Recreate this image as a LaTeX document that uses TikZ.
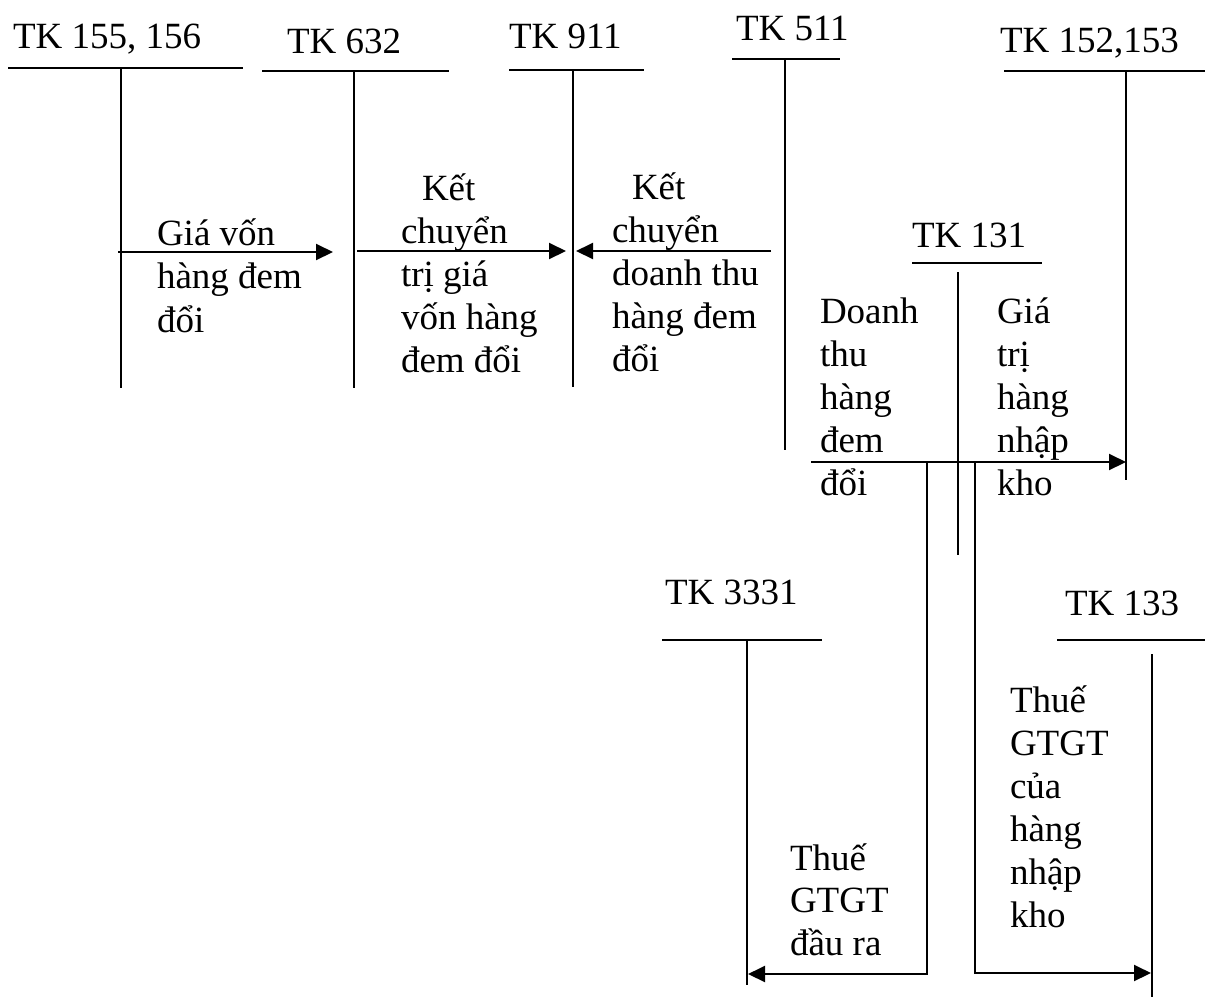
\documentclass[tikz,border=0pt]{standalone}
\usepackage{fontspec}
\setmainfont{Liberation Serif}
\usetikzlibrary{arrows.meta}
\tikzset{
  acct/.style={line width=2pt},
  flow/.style={line width=2pt, -{Triangle[length=17pt,width=16pt]}},
  lbl/.style={anchor=base west, inner sep=0pt, outer sep=0pt,
              font=\fontsize{37}{43}\selectfont},
}
% a column of one-line labels: name, left x, first baseline, line step, lines
\newcommand\linesat[5]{%
  \foreach \lineText [count=\k] in {#5}{%
    \node[lbl] (#1-\k) at ({#2},{#3+(\k-1)*#4}) {\lineText};}}
\begin{document}
\begin{tikzpicture}[x=1pt,y=-1pt]
\useasboundingbox (0,0) rectangle (1205,997);

% ---- TK 155, 156
\node[lbl] (t155) at (13,48) {TK 155, 156};
\coordinate (t155l) at (8,68);   \coordinate (t155r) at (243,68);
\coordinate (t155s) at (121,68); \coordinate (t155e) at (121,388);
\draw[acct] (t155l) -- (t155r);
\draw[acct] (t155s) -- (t155e);

% ---- TK 632
\node[lbl] (t632) at (287,53) {TK 632};
\coordinate (t632l) at (262,71); \coordinate (t632r) at (449,71);
\coordinate (t632s) at (354,71); \coordinate (t632e) at (354,388);
\draw[acct] (t632l) -- (t632r);
\draw[acct] (t632s) -- (t632e);

% ---- TK 911
\node[lbl] (t911) at (509,48) {TK 911};
\coordinate (t911l) at (509,70); \coordinate (t911r) at (644,70);
\coordinate (t911s) at (573,70); \coordinate (t911e) at (573,387);
\draw[acct] (t911l) -- (t911r);
\draw[acct] (t911s) -- (t911e);

% ---- TK 511
\node[lbl] (t511) at (736,40) {TK 511};
\coordinate (t511l) at (732,59); \coordinate (t511r) at (840,59);
\coordinate (t511s) at (785,59); \coordinate (t511e) at (785,450);
\draw[acct] (t511l) -- (t511r);
\draw[acct] (t511s) -- (t511e);

% ---- TK 152,153
\node[lbl] (t152) at (1000,52) {TK 152,153};
\coordinate (t152l) at (1004,71); \coordinate (t152r) at (1205,71);
\coordinate (t152s) at (1126,71); \coordinate (t152e) at (1126,480);
\draw[acct] (t152l) -- (t152r);
\draw[acct] (t152s) -- (t152e);

% ---- TK 131
\node[lbl] (t131) at (912,247) {TK 131};
\coordinate (t131l) at (912,263); \coordinate (t131r) at (1042,263);
\coordinate (t131s) at (958,272); \coordinate (t131e) at (958,555);
\draw[acct] (t131l) -- (t131r);
\draw[acct] (t131s) -- (t131e);

% ---- TK 3331
\node[lbl] (t3331) at (665,604) {TK 3331};
\coordinate (t3331l) at (662,640); \coordinate (t3331r) at (822,640);
\coordinate (t3331s) at (747,640); \coordinate (t3331e) at (747,985);
\draw[acct] (t3331l) -- (t3331r);
\draw[acct] (t3331s) -- (t3331e);

% ---- TK 133
\node[lbl] (t133) at (1065,615) {TK 133};
\coordinate (t133l) at (1057,640); \coordinate (t133r) at (1205,640);
\coordinate (t133s) at (1152,654); \coordinate (t133e) at (1152,997);
\draw[acct] (t133l) -- (t133r);
\draw[acct] (t133s) -- (t133e);

% ---- entries
\coordinate (a1s) at (118,252); \coordinate (a1e) at (333,252);
\draw[flow] (a1s) -- (a1e);
\linesat{gv}{157}{245}{43.5}{Giá vốn,hàng đem,đổi}

\coordinate (a2s) at (357,251); \coordinate (a2e) at (566,251);
\draw[flow] (a2s) -- (a2e);
\node[lbl] (kc1) at (422,200) {Kết};
\linesat{kc1}{401}{243}{43}{chuyển,trị giá,vốn hàng,đem đổi}

\coordinate (a3s) at (771,251); \coordinate (a3e) at (576,251);
\draw[flow] (a3s) -- (a3e);
\node[lbl] (kc2) at (632,199) {Kết};
\linesat{kc2}{612}{242}{43}{chuyển,doanh thu,hàng đem,đổi}

\coordinate (a4s) at (811,462); \coordinate (a4e) at (1126,462);
\draw[flow] (a4s) -- (a4e);
\linesat{dt}{820}{323}{43}{Doanh,thu,hàng,đem,đổi}
\linesat{gt}{997}{323}{43}{Giá,trị,hàng,nhập,kho}

\coordinate (b1s) at (927,462); \coordinate (b1m) at (927,974);
\coordinate (b1e) at (748,974);
\draw[flow] (b1s) -- (b1m) -- (b1e);
\linesat{tr}{790}{870}{42.5}{Thuế,GTGT,đầu ra}

\coordinate (b2s) at (975,462); \coordinate (b2m) at (975,973);
\coordinate (b2e) at (1151,973);
\draw[flow] (b2s) -- (b2m) -- (b2e);
\linesat{tv}{1010}{712}{43}{Thuế,GTGT,của,hàng,nhập,kho}
\end{tikzpicture}
\end{document}
